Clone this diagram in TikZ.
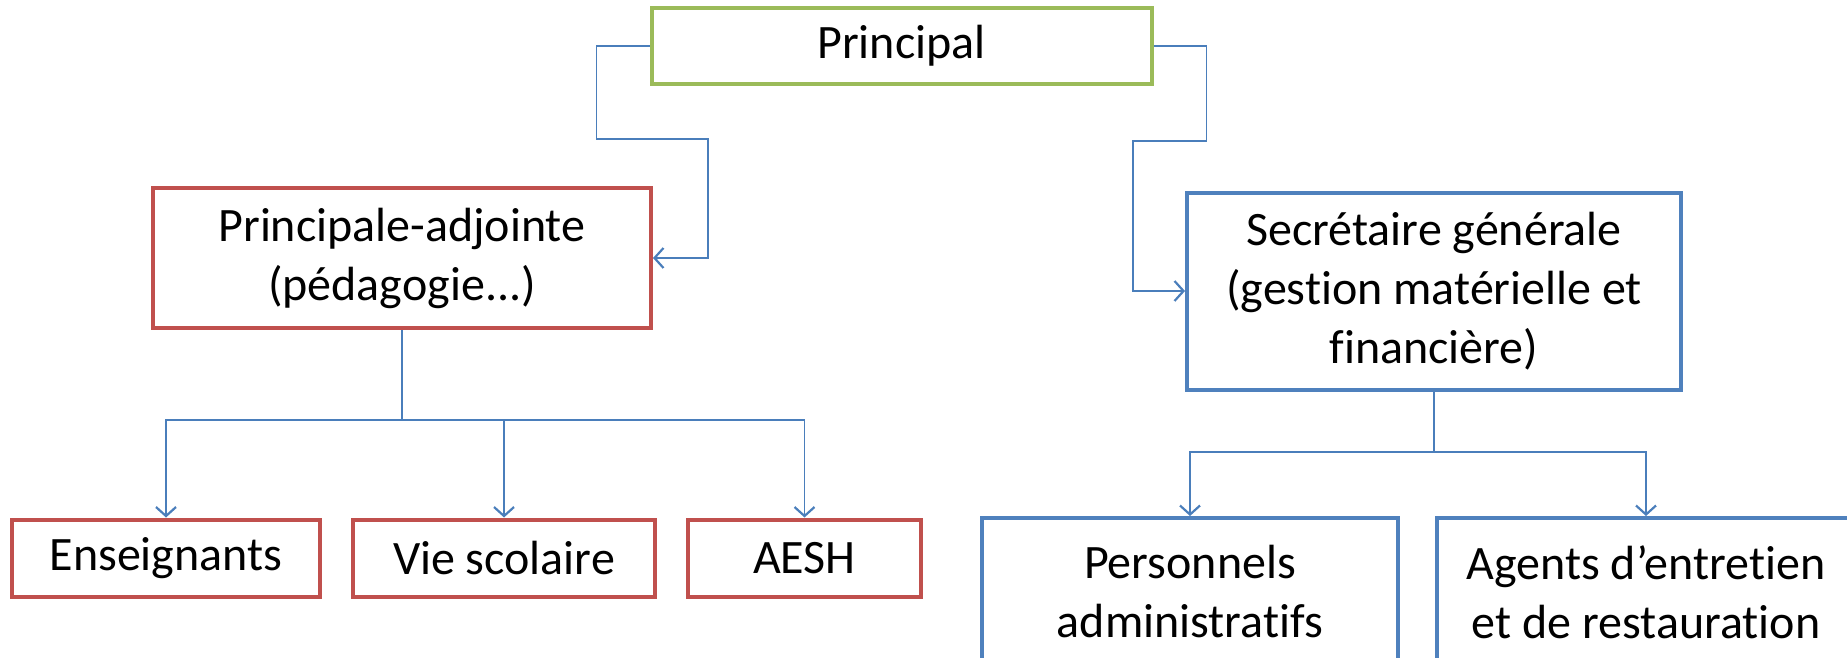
\documentclass[tikz,border=0pt]{standalone}
\usepackage{fontspec}
\setmainfont{Carlito}[Ligatures=NoCommon]
\usetikzlibrary{arrows.meta}
\definecolor{boxgreen}{HTML}{9BBB59}
\definecolor{boxred}{HTML}{C0504D}
\definecolor{boxblue}{HTML}{4F81BD}
\definecolor{linkblue}{HTML}{4A7EBB}
\tikzset{
  box/.style={draw, line width=2pt, align=center, inner sep=0pt,
    font=\fontsize{24}{29.5}\selectfont},
  greenbox/.style={box, draw=boxgreen},
  redbox/.style={box, draw=boxred},
  bluebox/.style={box, draw=boxblue},
  link/.style={draw=linkblue, line width=0.8pt},
  linkarrow/.style={link, -{Straight Barb[length=4.5pt,width=10pt,line width=1.1pt]}}
}

\begin{document}
\begin{tikzpicture}[x=0.5pt,y=-0.5pt]
			%%%%% START %%%%%
			\useasboundingbox (0,0) rectangle (1847,658);
			
			\node[greenbox, minimum width=250pt, minimum height=38pt] (princ) at (901.5,46) {Principal};
			
			\node[redbox, minimum width=249pt, minimum height=70pt] (adj) at (402,258) {Principale-adjointe\\(pédagogie...)};
			\node[bluebox, minimum width=247pt, minimum height=98.5pt] (sg) at (1434,291) {Secrétaire générale\\(gestion matérielle et\\financière)};
			
			\node[redbox, minimum width=154pt, minimum height=38.5pt] (ens) at (166,558) {Enseignants};
			\node[redbox, minimum width=151pt, minimum height=38.5pt] (vie) at (504,558) {Vie scolaire};
			\node[redbox, minimum width=116.5pt, minimum height=38.5pt] (aesh) at (804.5,558) {AESH};
			
			\node[bluebox, minimum width=208pt, minimum height=74pt] (pers) at (1190,592) {Personnels\\administratifs};
			\node[bluebox, minimum width=209pt, minimum height=74pt] (agents) at (1646,592) {Agents d’entretien\\et de restauration};
			
			\draw[linkarrow] (princ.west) -- ++(-53,0) |- (708,139) |- (adj.east);
			\draw[linkarrow] (princ.east) -- ++(53,0) |- (1133,141) |- (sg.west);
			
			\coordinate (adjbus) at (403,420);
			\draw[link] (adj.south) -- (adj.south |- adjbus);
			\draw[linkarrow] (adj.south |- adjbus) -| (ens.north);
			\draw[linkarrow] (adj.south |- adjbus) -| (vie.north);
			\draw[linkarrow] (adj.south |- adjbus) -| (aesh.north);
			
			\coordinate (sgbus) at (1434,452);
			\draw[link] (sg.south) -- (sg.south |- sgbus);
			\draw[linkarrow] (sg.south |- sgbus) -| (pers.north);
			\draw[linkarrow] (sg.south |- sgbus) -| (agents.north);
			%%%%% END %%%%%
\end{tikzpicture}
\end{document}
